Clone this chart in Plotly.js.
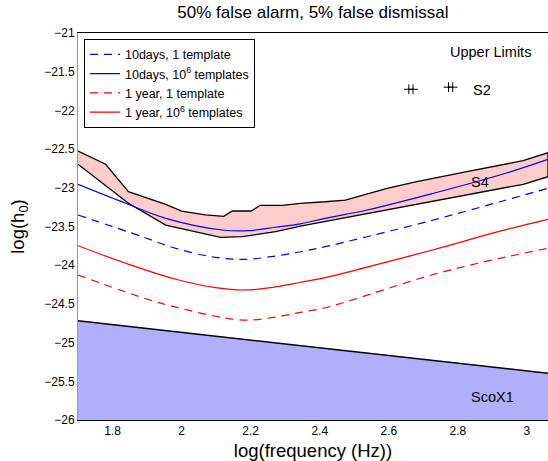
<!DOCTYPE html>
<html>
<head>
<meta charset="utf-8">
<script src="https://cdn.plot.ly/plotly-3.0.1.min.js"></script>
<style>html,body{margin:0;padding:0;background:#fff;}</style>
</head>
<body>
<div id="chart" style="width:548px;height:461px;"></div>
<script>
// S4 band (upper and lower boundaries)
const s4UpperX = [1.70,1.780,1.846,1.954,2.000,2.069,2.122,2.147,2.202,2.228,2.291,2.344,2.416,2.474,2.595,2.681,2.826,2.989,3.061];
const s4UpperY = [-22.525,-22.696,-23.050,-23.213,-23.300,-23.351,-23.368,-23.300,-23.300,-23.226,-23.226,-23.200,-23.180,-23.158,-23.006,-22.921,-22.792,-22.650,-22.547];
const s4LowerX = [1.70,1.846,1.954,2.113,2.175,2.272,2.344,2.416,2.440,2.633,2.826,2.989,3.061];
const s4LowerY = [-22.696,-23.200,-23.481,-23.640,-23.632,-23.567,-23.494,-23.438,-23.416,-23.252,-23.093,-22.955,-22.857];

// 10 days, 10^6 templates
const d10ManyX = [1.70,1.838,1.954,2.118,2.195,2.272,2.344,2.416,2.537,2.729,2.922,3.061];
const d10ManyY = [-22.955,-23.200,-23.394,-23.545,-23.554,-23.510,-23.465,-23.395,-23.287,-23.071,-22.835,-22.632];
// 10 days, 1 template
const d10OneX = [1.70,1.886,1.983,2.098,2.185,2.272,2.344,2.416,2.537,2.729,2.922,3.061];
const d10OneY = [-23.351,-23.632,-23.782,-23.898,-23.924,-23.881,-23.826,-23.761,-23.632,-23.416,-23.180,-23.006];
// 1 year, 10^6 templates
const y1ManyX = [1.70,1.838,1.983,2.098,2.185,2.272,2.344,2.416,2.537,2.729,2.922,3.061];
const y1ManyY = [-23.748,-23.975,-24.182,-24.290,-24.320,-24.280,-24.220,-24.160,-24.025,-23.800,-23.560,-23.407];
// 1 year, 1 template
const y1OneX = [1.70,1.915,2.000,2.098,2.185,2.272,2.344,2.416,2.493,2.729,2.922,3.061];
const y1OneY = [-24.127,-24.460,-24.560,-24.660,-24.710,-24.670,-24.610,-24.550,-24.450,-24.120,-23.911,-23.782];

// ScoX1 line
const scoX = [1.70, 3.061];
const scoY = [-24.717, -25.397];

// S2 upper limits markers (each drawn as a doubled cross)
const s2X = [2.658, 2.670, 2.773, 2.785];
const s2Y = [-21.727, -21.727, -21.700, -21.700];

const xTickVals = [1.8, 2, 2.2, 2.4, 2.6, 2.8, 3];
const xTickText = ['1.8', '2', '2.2', '2.4', '2.6', '2.8', '3'];
const yTickVals = [-26, -25.5, -25, -24.5, -24, -23.5, -23, -22.5, -22, -21.5, -21];
const yTickText = ['\u221226', '\u221225.5', '\u221225', '\u221224.5', '\u221224', '\u221223.5', '\u221223', '\u221222.5', '\u221222', '\u221221.5', '\u221221'];

const legendNames = ['10days, 1 template','10days, 10<sup>6</sup> templates','1 year, 1 template','1 year, 10<sup>6</sup> templates'];

const bandX = s4UpperX.concat(s4LowerX.slice().reverse());
const bandY = s4UpperY.concat(s4LowerY.slice().reverse());

const traces = [
  {x: scoX.concat([scoX[1], scoX[0]]), y: scoY.concat([-26, -26]), fill:'toself', fillcolor:'rgb(176,176,250)', mode:'lines', line:{color:'rgba(0,0,0,0)', width:0}, showlegend:false, hoverinfo:'skip'},
  {x: scoX, y: scoY, mode:'lines', line:{color:'black', width:1.5}, showlegend:false},
  {x: bandX, y: bandY, fill:'toself', fillcolor:'rgb(255,204,204)', mode:'lines', line:{color:'black', width:1.3}, showlegend:false},
  {x: d10OneX, y: d10OneY, mode:'lines', name: legendNames[0], line:{color:'blue', width:1.2, dash:'8px,6px', shape:'spline'}},
  {x: d10ManyX, y: d10ManyY, mode:'lines', name: legendNames[1], line:{color:'blue', width:1.2, shape:'spline'}},
  {x: y1OneX, y: y1OneY, mode:'lines', name: legendNames[2], line:{color:'red', width:1.2, dash:'8px,6px', shape:'spline'}},
  {x: y1ManyX, y: y1ManyY, mode:'lines', name: legendNames[3], line:{color:'red', width:1.2, shape:'spline'}},
  {x: s2X, y: s2Y, mode:'markers', marker:{symbol:'cross-thin', size:7, line:{color:'black', width:1}}, showlegend:false}
];

const layout = {
  width:548, height:461,
  margin:{l:78, r:0, t:33, b:41},
  paper_bgcolor:'white', plot_bgcolor:'white',
  font:{family:'Liberation Sans, Arial, sans-serif', color:'black', size:12},
  title:{text:'50% false alarm, 5% false dismissal', font:{size:17, color:'black'}, x:0.571, xanchor:'center', yref:'container', y:0.974, yanchor:'middle'},
  xaxis:{range:[1.7, 3.061], tickvals:xTickVals, ticktext:xTickText,
         showgrid:false, zeroline:false, showline:true, linecolor:'black', linewidth:1, mirror:true, ticks:'',
         tickfont:{size:12}, title:{text:'log(frequency (Hz))', font:{size:18.5}, standoff:8}},
  yaxis:{range:[-26,-21], tickvals:yTickVals, ticktext:yTickText,
         showgrid:false, zeroline:false, showline:true, linecolor:'#999', linewidth:1, ticks:'',
         tickfont:{size:12}, title:{text:'log(h<sub>0</sub>)', font:{size:18.5}, standoff:14}},
  legend:{x:0.0128, y:0.985, xanchor:'left', yanchor:'top', bgcolor:'white', bordercolor:'black', borderwidth:1,
          font:{size:12.5}, tracegroupgap:0},
  annotations:[
    {x:2.895, y:-21.242, text:'Upper Limits', showarrow:false, font:{size:14.5}},
    {x:2.837, y:-21.736, text:'S2', showarrow:false, xanchor:'left', font:{size:14.5}},
    {x:2.864, y:-22.921, text:'S4', showarrow:false, font:{size:14.5}},
    {x:2.901, y:-25.707, text:'ScoX1', showarrow:false, font:{size:14.5}}
  ],
  showlegend:true
};

Plotly.newPlot('chart', traces, layout, {displayModeBar:false, staticPlot:true});
</script>
</body>
</html>
